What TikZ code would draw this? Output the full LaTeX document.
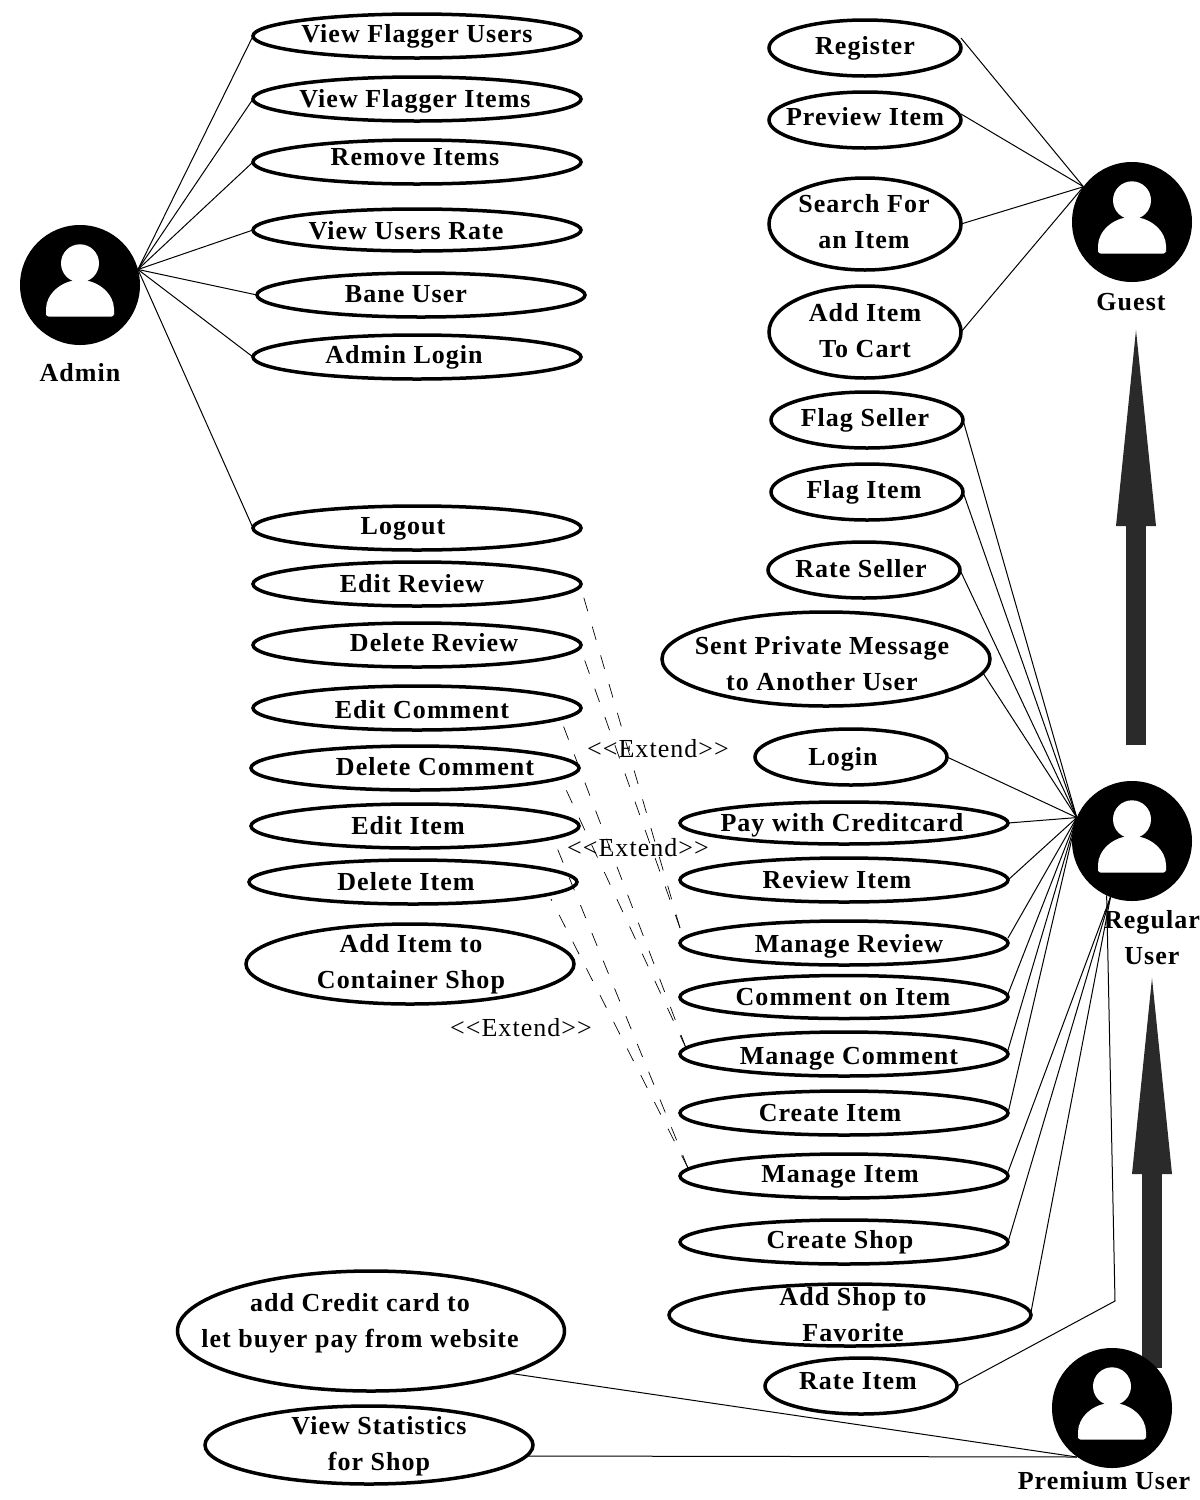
\documentclass[tikz,border=0pt]{standalone}
\usepackage{fontspec}
\setmainfont[LetterSpace=4]{Liberation Serif}
\usetikzlibrary{shapes.geometric}
\usetikzlibrary{arrows.meta}
\definecolor{arrowgray}{HTML}{2A2A2A}
\tikzset{
usecase/.style={ellipse,draw=black,line width=3.5pt,inner sep=0pt,outer sep=0pt,minimum width=328,minimum height=44},
smallcase/.style={usecase,minimum width=192,minimum height=56},
twolines/.style={font=\fontsize{26}{36}\selectfont\bfseries,text=black,align=center,inner sep=0pt},
uclabel/.style={twolines,text height=17pt,text depth=0pt},
extendlabel/.style={font=\fontsize{26}{36}\selectfont,text=black,inner sep=0pt},
actornode/.style={circle,fill=black,draw=none,inner sep=0pt,outer sep=0pt,minimum size=120},
assoc/.style={draw=black,line width=1pt},
extendline/.style={draw=black,line width=0.7pt,dash pattern=on 14pt off 16pt},
generalize/.style={draw=arrowgray,line width=20pt,-{Triangle[length=196pt,width=40pt,line width=0pt]}},
person/.pic={
\fill[white] (0,-21.7) circle[radius=19pt];
\fill[white,rounded corners=3pt] (-34,27) arc[start angle=180,end angle=0,x radius=34pt,y radius=32pt] -- (34,31.7) -- (-34,31.7) -- cycle;
}
}
\begin{document}
\begin{tikzpicture}[x=1pt,y=-1pt]
\useasboundingbox (0,0) rectangle (1200,1500);

\coordinate (guesttip) at (1136,330);
\coordinate (regulartail) at (1136,745);
\coordinate (regulartip) at (1152,978);
\coordinate (premiumtail) at (1152,1368);
\draw[generalize] (regulartail) -- (guesttip);
\draw[generalize] (premiumtail) -- (regulartip);

\node[actornode] (admin) at (80,285) {};
\pic at (admin.center) {person};
\node[uclabel] (adminlabel) at (80,373) {Admin};
\node[actornode] (guest) at (1132,222) {};
\pic at (guest.center) {person};
\node[uclabel] (guestlabel) at (1131,302) {Guest};
\node[actornode] (regular) at (1132,841) {};
\pic at (regular.center) {person};
\node[twolines] (regularlabel) at (1152,938) {Regular\\User};
\node[actornode] (premium) at (1112,1408) {};
\pic at (premium.center) {person};
\node[uclabel] (premiumlabel) at (1104,1481) {Premium User};

\node[usecase] (viewusers) at (417,36) {};
\node[uclabel] (viewuserst) at (417,34) {View Flagger Users};
\node[usecase] (viewitems) at (417,99) {};
\node[uclabel] (viewitemst) at (415,99) {View Flagger Items};
\node[usecase] (removeitems) at (417,162) {};
\node[uclabel] (removeitemst) at (415,157) {Remove Items};
\node[usecase,minimum height=42] (usersrate) at (417,230) {};
\node[uclabel] (usersratet) at (406,231) {View Users Rate};
\node[usecase] (baneuser) at (421,295) {};
\node[uclabel] (baneusert) at (406,294) {Bane User};
\node[usecase] (adminlogin) at (417,357) {};
\node[uclabel] (adminlogint) at (404,355) {Admin Login};
\node[usecase] (logout) at (417,528) {};
\node[uclabel] (logoutt) at (403,526) {Logout};
\node[usecase] (editreview) at (417,584) {};
\node[uclabel] (editreviewt) at (412,584) {Edit Review};
\node[usecase] (deletereview) at (417,645) {};
\node[uclabel] (deletereviewt) at (434,643) {Delete Review};
\node[usecase] (editcomment) at (417,708) {};
\node[uclabel] (editcommentt) at (422,710) {Edit Comment};
\node[usecase] (deletecomment) at (415,768) {};
\node[uclabel] (deletecommentt) at (435,767) {Delete Comment};
\node[usecase] (edititem) at (415,826) {};
\node[uclabel] (edititemt) at (408,826) {Edit Item};
\node[usecase] (deleteitem) at (413,882) {};
\node[uclabel] (deleteitemt) at (406,882) {Delete Item};
\node[usecase,minimum height=80] (containershop) at (410,964) {};
\node[twolines] (containershopt) at (411,964) {Add Item to\\Container Shop};
\node[usecase,minimum width=387,minimum height=120] (creditcard) at (371,1331) {};
\node[twolines] (creditcardt) at (360,1323) {add Credit card to\\let buyer pay from website};
\node[usecase,minimum height=78] (statistics) at (369,1445) {};
\node[twolines] (statisticst) at (379,1446) {View Statistics\\for Shop};

\node[smallcase] (register) at (865,48) {};
\node[uclabel] (registert) at (865,46) {Register};
\node[smallcase] (preview) at (865,120) {};
\node[uclabel] (previewt) at (865,117) {Preview Item};
\node[smallcase,minimum height=92] (search) at (865,224) {};
\node[twolines] (searcht) at (864,222) {Search For\\an Item};
\node[smallcase,minimum height=92] (addcart) at (865,332) {};
\node[twolines] (addcartt) at (865,331) {Add Item\\To Cart};
\node[smallcase] (flagseller) at (867,420) {};
\node[uclabel] (flagsellert) at (865,418) {Flag Seller};
\node[smallcase] (flagitem) at (867,492) {};
\node[uclabel] (flagitemt) at (864,490) {Flag Item};
\node[smallcase] (rateseller) at (864,570) {};
\node[uclabel] (ratesellert) at (861,569) {Rate Seller};
\node[usecase,minimum height=94] (message) at (826,659) {};
\node[twolines] (messaget) at (822,664) {Sent Private Message\\to Another User};
\node[smallcase] (login) at (851,757) {};
\node[uclabel] (logint) at (843,757) {Login};
\node[usecase,minimum height=42] (paycard) at (844,823) {};
\node[uclabel] (paycardt) at (842,823) {Pay with Creditcard};
\node[usecase] (reviewitem) at (844,880) {};
\node[uclabel] (reviewitemt) at (837,880) {Review Item};
\node[usecase] (managereview) at (844,943) {};
\node[uclabel] (managereviewt) at (849,944) {Manage Review};
\node[usecase,minimum height=43] (commentitem) at (844,997) {};
\node[uclabel] (commentitemt) at (843,997) {Comment on Item};
\node[usecase] (managecomment) at (844,1054) {};
\node[uclabel] (managecommentt) at (849,1056) {Manage Comment};
\node[usecase] (createitem) at (844,1113) {};
\node[uclabel] (createitemt) at (830,1113) {Create Item};
\node[usecase] (manageitem) at (844,1176) {};
\node[uclabel] (manageitemt) at (840,1174) {Manage Item};
\node[usecase] (createshop) at (844,1242) {};
\node[uclabel] (createshopt) at (840,1240) {Create Shop};
\node[usecase,minimum width=362,minimum height=62] (addshop) at (850,1315) {};
\node[twolines] (addshopt) at (853,1315) {Add Shop to\\Favorite};
\node[smallcase] (rateitem) at (861,1386) {};
\node[uclabel] (rateitemt) at (858,1381) {Rate Item};

\foreach \ucase in {viewusers,viewitems,removeitems,usersrate,baneuser,adminlogin,logout}
\draw[assoc] (admin.15) -- (\ucase.west);

\draw[assoc] (guest.144) -- ([yshift=10]register.east);
\draw[assoc] (guest.144) -- ([yshift=6]preview.east);
\draw[assoc] (guest.144) -- (search.east);
\draw[assoc] (guest.144) -- (addcart.east);

\foreach \ucase in {flagseller,flagitem,rateseller,login,paycard,reviewitem,createitem}
\draw[assoc] (regular.157) -- (\ucase.east);
\draw[assoc] (regular.157) -- (message.-5);
\draw[assoc] (regular.157) -- ([yshift=5]managereview.east);
\draw[assoc] (regular.157) -- ([yshift=3]commentitem.east);
\draw[assoc] (regular.157) -- ([yshift=4]managecomment.east);
\draw[assoc] (regular.249) -- ([yshift=4]manageitem.east);
\draw[assoc] (regular.249) -- (createshop.east);
\draw[assoc] (regular.249) -- ([yshift=3]addshop.east);
\coordinate (ratebend) at (1115,1301);
\draw[assoc] (regular.245) -- (ratebend) -- (rateitem.east);

\coordinate (premiumfoot) at (1077,1457);
\draw[assoc] (premiumfoot) -- (creditcard.-17.4);
\draw[assoc] (premiumfoot) -- (statistics.-4.4);

\draw[extendline] ([yshift=15]managereview.west) -- ([yshift=-4]editreview.east);
\draw[extendline] ([yshift=15]managereview.west) -- ([yshift=-5]deletereview.east);
\draw[extendline] ([xshift=6,yshift=6]managecomment.west) -- ([xshift=-18,yshift=-17]editcomment.east);
\draw[extendline] ([xshift=6,yshift=6]managecomment.west) -- ([xshift=-17,yshift=-13]deletecomment.east);
\draw[extendline] ([xshift=8,yshift=8]manageitem.west) -- ([xshift=-26,yshift=-12]edititem.east);
\draw[extendline] ([xshift=8,yshift=8]manageitem.west) -- ([xshift=-26,yshift=-17]deleteitem.east);

\node[extendlabel] (extendone) at (658,749) {<{}<Extend>{}>};
\node[extendlabel] (extendtwo) at (638,848) {<{}<Extend>{}>};
\node[extendlabel] (extendthree) at (521,1028) {<{}<Extend>{}>};
\end{tikzpicture}
\end{document}
